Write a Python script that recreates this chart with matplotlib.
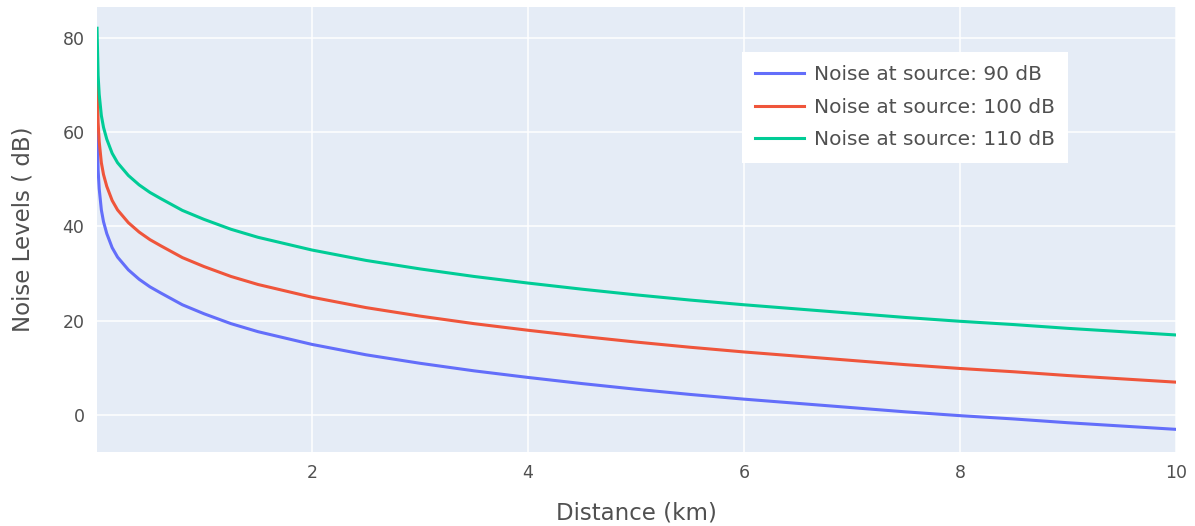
"""
Noise level vs distance for three source levels (plotly-style line chart).
"""

import matplotlib
matplotlib.use("Agg")   # headless backend
import matplotlib.pyplot as plt

# ---------------------------------------------------------------------------
# Data
# ---------------------------------------------------------------------------

distance_km = [0.01, 0.02, 0.03, 0.05, 0.07, 0.1, 0.15, 0.2, 0.3, 0.4, 0.5,
               0.6, 0.8, 1.0, 1.25, 1.5, 2.0, 2.5, 3.0, 3.5, 4.0, 4.5, 5.0,
               5.5, 6.0, 6.5, 7.0, 7.5, 8.0, 8.5, 9.0, 9.5, 10.0]

noise_90 = [62.0, 52.0, 48.0, 43.5, 41.0, 38.5, 35.5, 33.5, 30.8, 28.8, 27.2,
            25.9, 23.4, 21.5, 19.4, 17.7, 15.0, 12.8, 11.0, 9.4, 8.0, 6.7,
            5.5, 4.4, 3.4, 2.5, 1.6, 0.7, -0.1, -0.8, -1.6, -2.3, -3.0]

noise_100 = [72.0, 62.0, 58.0, 53.5, 51.0, 48.5, 45.5, 43.5, 40.8, 38.8, 37.2,
             35.9, 33.4, 31.5, 29.4, 27.7, 25.0, 22.8, 21.0, 19.4, 18.0, 16.7,
             15.5, 14.4, 13.4, 12.5, 11.6, 10.7, 9.9, 9.2, 8.4, 7.7, 7.0]

noise_110 = [82.0, 72.0, 68.0, 63.5, 61.0, 58.5, 55.5, 53.5, 50.8, 48.8, 47.2,
             45.9, 43.4, 41.5, 39.4, 37.7, 35.0, 32.8, 31.0, 29.4, 28.0, 26.7,
             25.5, 24.4, 23.4, 22.5, 21.6, 20.7, 19.9, 19.2, 18.4, 17.7, 17.0]

series_labels = ["Noise at source: 90 dB",
                 "Noise at source: 100 dB",
                 "Noise at source: 110 dB"]
series_colors = ["#636efa", "#ef553b", "#00cc96"]

x_ticks = [2, 4, 6, 8, 10]
y_ticks = [0, 20, 40, 60, 80]

# ---------------------------------------------------------------------------
# Plot
# ---------------------------------------------------------------------------

plt.rcParams["font.family"] = ["DejaVu Sans"]
text_col = "#505050"

fig = plt.figure(figsize=(11.95, 5.26), dpi=100)
ax = fig.add_axes([0.0812, 0.1407, 0.9028, 0.846])
ax.set_facecolor("#e5ecf6")

for ys, lab, col in zip([noise_90, noise_100, noise_110], series_labels, series_colors):
    ax.plot(distance_km, ys, color=col, linewidth=2.2, label=lab,
            solid_joinstyle="round", zorder=3)

ax.set_xlim(0.01, 10)
ax.set_ylim(-7.8, 86.5)
ax.set_xticks(x_ticks)
ax.set_yticks(y_ticks)
ax.grid(True, color="white", linewidth=1.1, zorder=0)
ax.set_axisbelow(True)
for sp in ax.spines.values():
    sp.set_visible(False)
ax.tick_params(length=0, labelsize=12.5, labelcolor=text_col, pad=9)

ax.set_xlabel("Distance (km)", fontsize=16.5, color=text_col, labelpad=14)
ax.set_ylabel("Noise Levels ( dB)", fontsize=16.5, color=text_col, labelpad=20)

leg = ax.legend(loc="upper left", bbox_to_anchor=(0.598, 0.899),
                fontsize=14.5, frameon=True, fancybox=False, framealpha=1,
                handlelength=2.4, handletextpad=0.5, labelspacing=0.68,
                borderpad=0.65, borderaxespad=0)
leg.get_frame().set_facecolor("white")
leg.get_frame().set_edgecolor("white")
leg.get_frame().set_linewidth(0)
for t in leg.get_texts():
    t.set_color(text_col)

fig.savefig("out.png", dpi=100)
plt.close(fig)
